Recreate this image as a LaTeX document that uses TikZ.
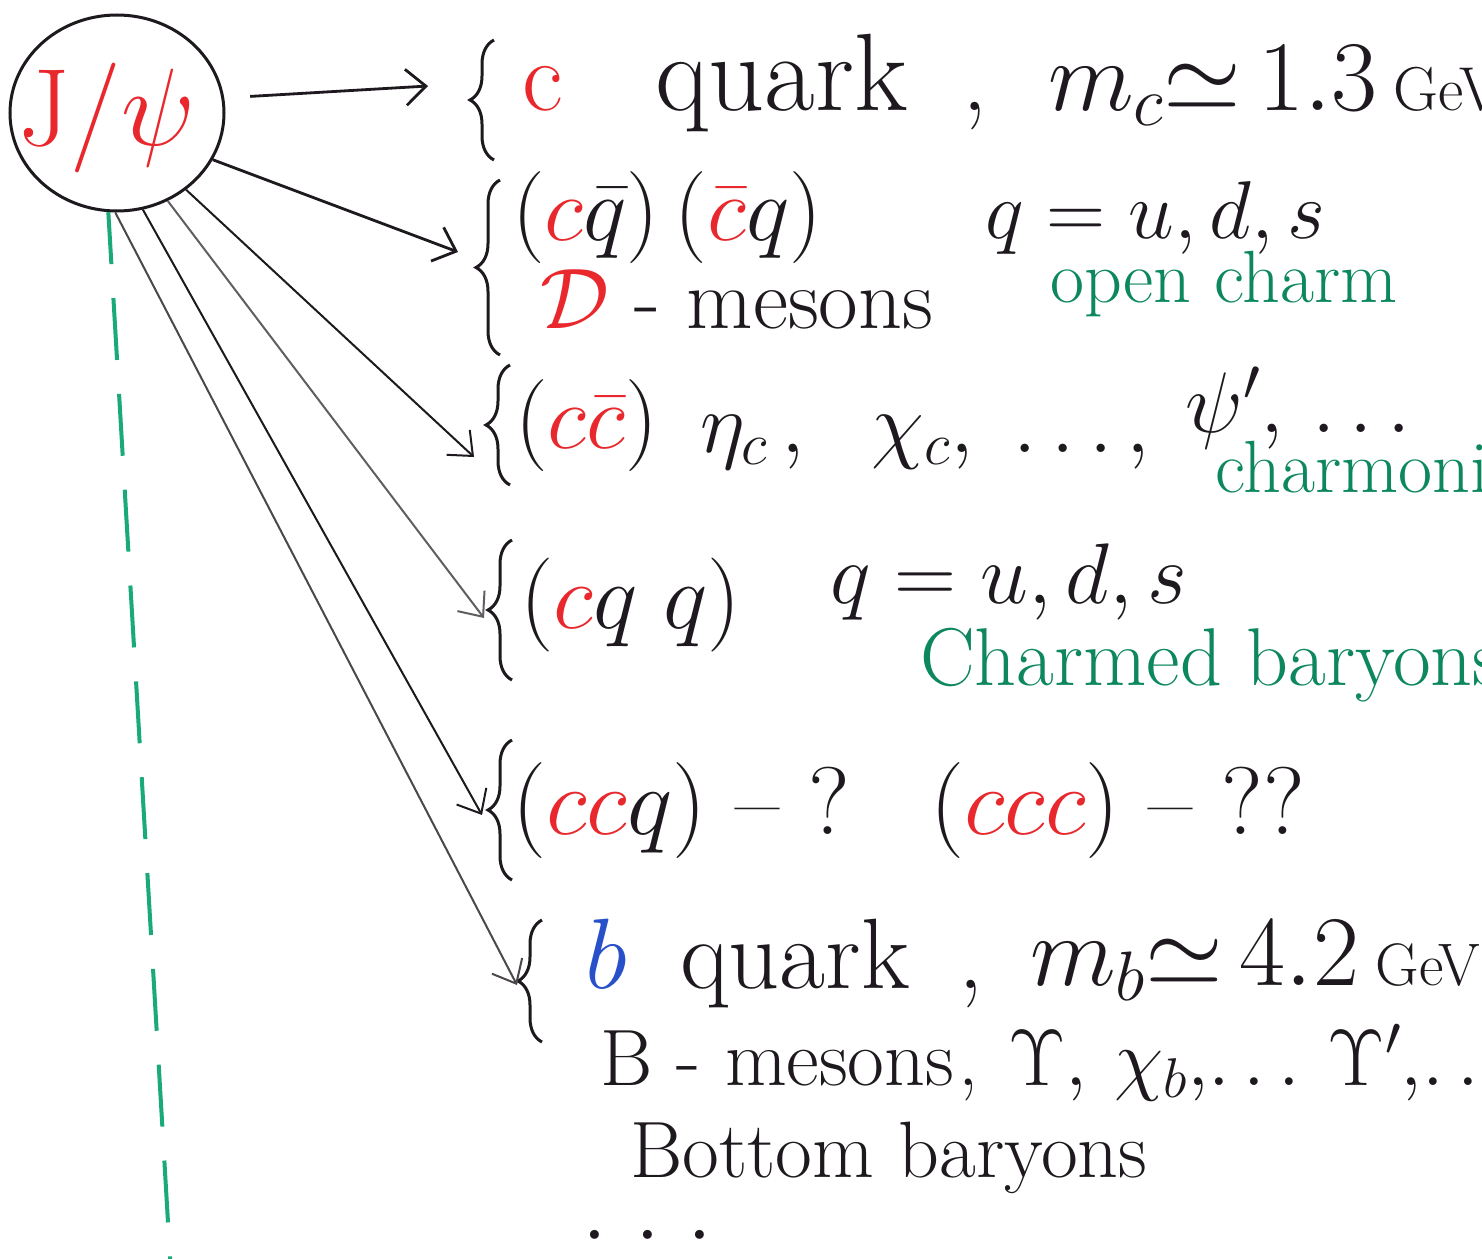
\RequirePackage{fix-cm}
\documentclass[tikz,border=0pt]{standalone}
\usepackage{fontspec}
\usetikzlibrary{arrows.meta,shapes.geometric,decorations.pathreplacing}
\definecolor{inkred}{RGB}{232,40,45}
\definecolor{inkgreen}{RGB}{12,135,95}
\definecolor{dashgreen}{RGB}{25,170,120}
\definecolor{inkblue}{RGB}{40,80,200}
\definecolor{ink}{RGB}{30,25,30}
\begin{document}
\begin{tikzpicture}[x=1pt,y=-1pt,
  txt/.style={anchor=base west,inner sep=0pt,text=ink,font=\fontsize{86}{96}\selectfont},
  big/.style={font=\fontsize{100}{110}\selectfont},
  gtxt/.style={anchor=base west,inner sep=0pt,text=inkgreen,font=\fontsize{74}{84}\selectfont},
  brc/.style={draw=ink,line width=3pt,decorate,decoration={brace,amplitude=24pt}},
  arr/.style={draw=ink,line width=2.8pt,-{Straight Barb[length=20pt,width=36pt]}},
  arrthin/.style={draw=ink,line width=2pt,-{Straight Barb[length=20pt,width=34pt]}}]
\useasboundingbox[fill=white] (0,0) rectangle (1482,1258);

% J/psi circle
\node[ellipse,draw=ink,line width=3pt,minimum width=214pt,minimum height=196pt,inner sep=0pt] (J) at (117,113) {};
\node[text=inkred,font=\fontsize{110}{120}\selectfont,inner sep=0pt] (Jt) at (107,118) {J/$\psi$};

% green dashed line
\coordinate (g1) at (172,1290);
\draw[dashgreen,line width=4pt,dash pattern=on 62pt off 34pt,dash phase=10pt] (J.-95) -- (g1);

% braces
\draw[brc] (494,160) -- (494,40);
\draw[brc] (500,355) -- (500,180);
\draw[brc] (510,485) -- (510,365);
\draw[brc] (512,680) -- (512,540);
\draw[brc] (512,880) -- (512,740);
\draw[brc] (542,1042) -- (542,920);

% arrow ends
\coordinate (e1) at (428,86);
\coordinate (e2) at (458,252);
\coordinate (e3) at (474,457);
\coordinate (e4) at (484,618);
\coordinate (e5) at (482,815);
\coordinate (e6) at (517,985);

\draw[arr,shorten <=26pt] (J.8) -- (e1);
\draw[arr] (J.-26) -- (e2);
\draw[arrthin] (J.-48) -- (e3);
\draw[arrthin,draw=ink!70] (J.-60) -- (e4);
\draw[arrthin] (J.-75) -- (e5);
\draw[arrthin,draw=ink!80] (J.-91) -- (e6);

% row 1
\node[txt,big,text=inkred] (c1) at (522,110) {c};
\node[txt,font=\fontsize{110}{120}\selectfont] (q1) at (655,110) {quark};
\node[txt,big] (cm1) at (962,110) {,};
\node[txt,big] (m1) at (1048,110) {$m_c{\simeq}\,1.3$\,{\fontsize{62}{66}\selectfont GeV}};

% row 2
\node[txt,font=\fontsize{92}{100}\selectfont] (r2a) at (512,240) {$(\textcolor{inkred}{c}\bar{q})\,(\textcolor{inkred}{\bar{c}}q)$};
\node[txt,font=\fontsize{82}{90}\selectfont] (r2b) at (985,238) {$q = u, d, s$};
\node[txt] (r2c) at (540,328) {\textcolor{inkred}{$\mathcal{D}$} - mesons};
\node[gtxt] (r2d) at (1050,302) {open charm};

% row 3
\node[txt,font=\fontsize{92}{100}\selectfont] (r3a) at (515,448) {$(\textcolor{inkred}{c\bar{c}})$};
\node[txt] (r3b) at (700,452) {$\eta_c\,,\ \ \chi_c,\ \ldots,$};
\node[txt] (r3c) at (1185,432) {$\psi',\,\ldots$};
\node[gtxt] (r3d) at (1215,492) {charmonium};

% row 4
\node[txt,font=\fontsize{94}{100}\selectfont] (r4a) at (520,628) {$(\textcolor{inkred}{c}q\;q)$};
\node[txt] (r4b) at (830,603) {$q = u, d, s$};
\node[gtxt,font=\fontsize{82}{90}\selectfont] (r4c) at (920,685) {Charmed baryons};

% row 5
\node[txt,font=\fontsize{96}{104}\selectfont] (r5a) at (512,834) {$(\textcolor{inkred}{cc}q)$ -- ?};
\node[txt,font=\fontsize{96}{104}\selectfont] (r5b) at (930,834) {$(\textcolor{inkred}{ccc})$ -- ??};

% row 6
\node[txt,big,text=inkblue] (b6) at (585,988) {$b$};
\node[txt,font=\fontsize{100}{110}\selectfont] (q6) at (680,988) {quark};
\node[txt,big] (cm6) at (958,988) {,};
\node[txt,big] (m6) at (1030,985) {$m_b{\simeq}\,4.2$\,{\fontsize{60}{66}\selectfont GeV}};
\node[txt,font=\fontsize{80}{88}\selectfont] (r6b) at (600,1085) {B - mesons};
\node[txt,font=\fontsize{80}{88}\selectfont] (r6bc) at (958,1085) {,};
\node[txt,font=\fontsize{80}{88}\selectfont] (r6c) at (1008,1085) {$\Upsilon,\,\chi_b,\!\ldots\,\Upsilon',\!\ldots$};
\node[txt,font=\fontsize{80}{88}\selectfont] (r6d) at (630,1177) {Bottom baryons};
\node[txt,font=\fontsize{40}{44}\selectfont] (dots) at (580,1245) {\textbullet\hspace{24pt}\textbullet\hspace{24pt}\textbullet};
\end{tikzpicture}
\end{document}
